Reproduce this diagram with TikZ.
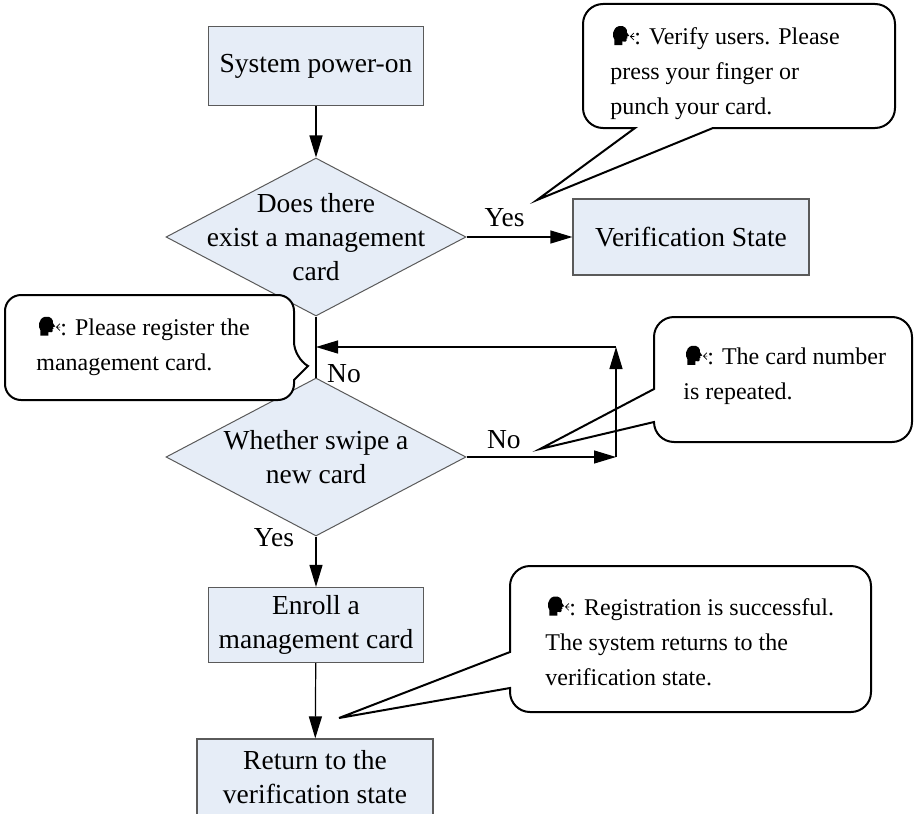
\documentclass[tikz,border=0pt]{standalone}
\usepackage{fontspec}
\setmainfont{Liberation Serif}
\usetikzlibrary{shapes.geometric, arrows.meta}
\definecolor{boxfill}{RGB}{230,237,247}
\definecolor{boxline}{RGB}{90,90,90}
\newcommand{\speaker}{\hspace*{12pt}}
\newcommand{\boxfont}{\fontsize{13.75}{17}\selectfont}
\newcommand{\hintfont}{\fontsize{12}{17.5}\selectfont}

\begin{document}
\begin{tikzpicture}[x=0.5pt, y=-0.5pt,
    stepbox/.style={draw=boxline, fill=boxfill, line width=0.6pt, align=center, font=\boxfont, inner sep=2pt},
    decide/.style={diamond, draw=boxline, fill=boxfill, line width=0.5pt, minimum width=150pt, minimum height=79pt, inner sep=0pt},
    decidetext/.style={align=center, font=\boxfont},
    hint/.style={align=left, font=\hintfont, anchor=west, inner sep=0pt},
    bubble/.style={draw=black, line width=1pt, fill=white},
    arr/.style={-{Triangle[length=11pt, width=6.5pt]}, line width=0.6pt},
    tag/.style={font=\boxfont, inner sep=0pt},
    talker/.pic={
        \fill (2,17) -- (2,12) .. controls (0,10) and (0,2) .. (6,0.5) .. controls (11,-0.5) and (13.5,3) .. (13,6)
            -- (15,9) -- (13,9.5) -- (13.5,11) -- (12.5,11.5) -- (12.8,13) .. controls (12.8,14.2) and (11,14.2) .. (9,13.8) -- (9,17) -- cycle;
        \draw[line width=0.35pt] (19,6.5) -- (16,9.5) -- (19,12.5) (16,9.5) -- (19.5,9.5);
    }]
    \useasboundingbox (0,0) rectangle (914,813);
    \clip (0,0) rectangle (914,813);

    \node[stepbox, minimum width=107.5pt, minimum height=39.5pt] (power) at (316,66) {System power-on};
    \node[decide, label={[decidetext]center:Does there\\exist a management\\card}] (check) at (316,237) {};
    \node[stepbox, minimum width=118pt, minimum height=38pt] (verify) at (691,237) {Verification State};
    \node[decide, label={[decidetext]center:Whether swipe a\\new card}] (swipe) at (316,457) {};
    \node[stepbox, minimum width=107.5pt, minimum height=37.5pt] (enroll) at (316,625) {Enroll a\\management card};
    \node[stepbox, minimum width=118pt, minimum height=38pt] (back) at (315,777) {Return to the\\verification state};

    \draw[bubble] (635,128) [rounded corners=10pt] -- (583,128) -- (583,4) -- (895,4) -- (895,128) [sharp corners] -- (713,128) -- (537,200) -- cycle;
    \draw[bubble] (294,380) [rounded corners=8pt] -- (294,400) -- (5,400) -- (5,295) -- (294,295) -- (294,358) [sharp corners] -- (308,366) -- cycle;
    \draw[bubble] (654,389) [rounded corners=10pt] -- (654,317) -- (912,317) -- (912,442) -- (654,442) [sharp corners] -- (654,422) -- (540,449) -- cycle;
    \draw[bubble] (510,652) [rounded corners=10pt] -- (510,566) -- (871,566) -- (871,712) -- (510,712) [sharp corners] -- (510,688) -- (339,718) -- cycle;

    \node[hint] (hintA) at (610,74) {\speaker: Verify users. Please\\press your finger or\\punch your card.};
    \node[hint] (hintB) at (36,347) {\speaker: Please register the\\management card.};
    \node[hint] (hintC) at (683,376) {\speaker: The card number\\is repeated.};
    \node[hint] (hintD) at (545,642) {\speaker: Registration is successful.\\The system returns to the\\verification state.};
    \foreach \h in {hintA, hintB, hintC, hintD}
        \pic[scale=1.15] at ([shift={(2,-2)}]\h.north west) {talker};

    \coordinate (loop) at (616,347);
    \draw[arr] (power) -- (check);
    \draw[arr] (check.east) -- node[tag, pos=0.36, yshift=9.5pt] {Yes} (check.east -| verify.west);
    \draw[line width=0.6pt] (check.south) -- node[tag, pos=0.93, xshift=14pt] {No} (swipe.north);
    \draw[arr] (swipe.east) -- node[tag, pos=0.25, yshift=8.5pt] {No} (swipe.east -| loop);
    \draw[arr] (swipe.east -| loop) -- (loop);
    \draw[arr] (loop) -- (loop -| check.south);
    \draw[arr] (swipe.south) -- node[tag, pos=0.02, xshift=-21pt] {Yes} (enroll.north);
    \draw[arr] (enroll) -- (back);
\end{tikzpicture}
\end{document}
